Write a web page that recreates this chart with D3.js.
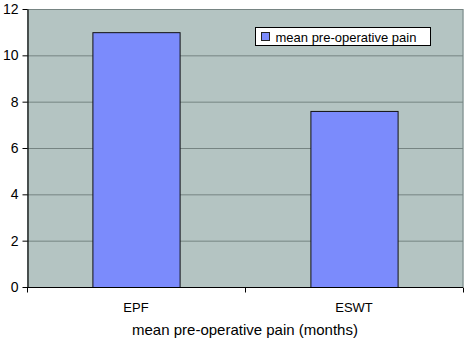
<!DOCTYPE html>
<html>
<head>
<meta charset="utf-8">
<script src="https://cdn.jsdelivr.net/npm/d3@7"></script>
<style>
  body { margin: 0; background: #fff; }
  svg { display: block; }
</style>
</head>
<body>
<div id="chart"></div>
<script>
// data
const categories = ["EPF", "ESWT"];
const values = [11.0, 7.6];
const yTicks = [0, 2, 4, 6, 8, 10, 12];
const seriesName = "mean pre-operative pain";
const xTitle = "mean pre-operative pain (months)";

const width = 466, height = 340;
const margin = { top: 9, right: 3, bottom: 53, left: 27 };
const innerW = width - margin.left - margin.right;
const innerH = height - margin.top - margin.bottom;

const svg = d3.select("#chart").append("svg")
    .attr("width", width)
    .attr("height", height);

const g = svg.append("g")
    .attr("transform", `translate(${margin.left},${margin.top})`);

const x = d3.scaleBand().domain(categories).range([0, innerW]).paddingInner(0.6).paddingOuter(0.3);
const xBounds = d3.scaleLinear().domain([0, categories.length]).range([0, innerW]);
const y = d3.scaleLinear().domain([0, 12]).range([innerH, 0]);

// plot background
g.append("rect")
    .attr("width", innerW)
    .attr("height", innerH)
    .attr("fill", "#b4c4c2");

// right border of plot area
g.append("line")
    .attr("x1", innerW).attr("x2", innerW)
    .attr("y1", 0).attr("y2", innerH)
    .attr("stroke", "#8a9a98")
    .attr("stroke-width", 1.5);

// gridlines
g.selectAll(".grid")
    .data(yTicks.filter(t => t > 0))
    .join("line")
    .attr("x1", 0).attr("x2", innerW)
    .attr("y1", d => y(d) + 0.5).attr("y2", d => y(d) + 0.5)
    .attr("stroke", "#768482")
    .attr("stroke-width", 1);

// bars
g.selectAll(".bar")
    .data(values)
    .join("rect")
    .attr("x", (d, i) => x(categories[i]) + 0.5)
    .attr("y", d => y(d) + 0.5)
    .attr("width", x.bandwidth())
    .attr("height", d => innerH - y(d))
    .attr("fill", "#7b8bfc")
    .attr("stroke", "#111")
    .attr("stroke-width", 1);

// y axis
const yAxis = g.append("g")
    .attr("transform", "translate(0.5,0)")
    .call(d3.axisLeft(y).tickValues(yTicks).tickSize(5).tickSizeOuter(0).tickPadding(4));
yAxis.select(".domain").attr("stroke", "#000").attr("stroke-width", 1.2);
yAxis.selectAll(".tick line").attr("stroke", "#000");
yAxis.selectAll("text")
    .attr("font-family", "Liberation Sans, Arial, sans-serif")
    .attr("font-size", 14)
    .attr("fill", "#000");

// x axis line with category boundary ticks
const xAxisG = g.append("g").attr("transform", `translate(0,${innerH + 0.5})`);
xAxisG.append("line")
    .attr("x1", 0).attr("x2", innerW)
    .attr("stroke", "#000").attr("stroke-width", 1.2);
xAxisG.selectAll(".bt")
    .data(d3.range(categories.length + 1))
    .join("line")
    .attr("x1", d => xBounds(d) + 0.5).attr("x2", d => xBounds(d) + 0.5)
    .attr("y1", 0).attr("y2", 5)
    .attr("stroke", "#000");
xAxisG.selectAll(".cat")
    .data(categories)
    .join("text")
    .attr("x", d => x(d) + x.bandwidth() / 2)
    .attr("y", 24)
    .attr("text-anchor", "middle")
    .attr("font-family", "Liberation Sans, Arial, sans-serif")
    .attr("font-size", 13)
    .attr("fill", "#000")
    .text(d => d);

// x title
svg.append("text")
    .attr("x", margin.left + innerW / 2)
    .attr("y", 335)
    .attr("text-anchor", "middle")
    .attr("font-family", "Liberation Sans, Arial, sans-serif")
    .attr("font-size", 15)
    .attr("fill", "#000")
    .text(xTitle);

// legend
const legend = svg.append("g").attr("transform", "translate(255.5,27.5)");
legend.append("rect")
    .attr("width", 175).attr("height", 18)
    .attr("fill", "#fff").attr("stroke", "#000");
legend.append("rect")
    .attr("x", 6).attr("y", 5)
    .attr("width", 8).attr("height", 8)
    .attr("fill", "#7b8bfc").attr("stroke", "#222");
legend.append("text")
    .attr("x", 20).attr("y", 14)
    .attr("font-family", "Liberation Sans, Arial, sans-serif")
    .attr("font-size", 13)
    .attr("fill", "#000")
    .text(seriesName);
</script>
</body>
</html>
